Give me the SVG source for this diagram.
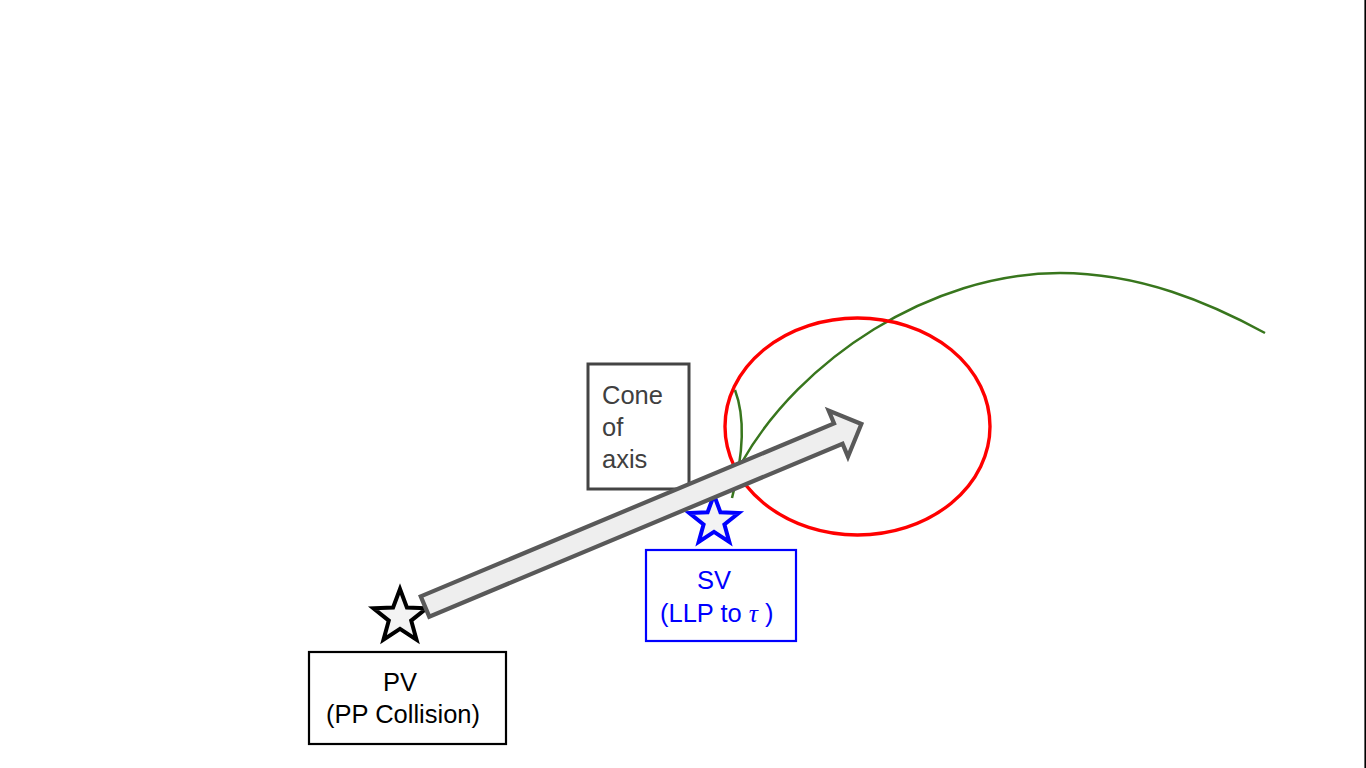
<svg xmlns="http://www.w3.org/2000/svg" width="1366" height="768" viewBox="0 0 1366 768">
<style>
.lbl{font-family:"Liberation Sans",Arial,sans-serif;font-size:25.5px}
.curve{fill:none;stroke:#38761d;stroke-width:2.5}
</style>
<rect width="1366" height="768" fill="#ffffff"/>
<line x1="1365.2" y1="0" x2="1365.2" y2="768" stroke="#000" stroke-width="1.6"/>
<g id="track">
<path class="curve" d="M742,462 C800,360 930,273 1060,273 C1140,273 1210,303 1265,333"/>
<path class="curve" d="M735,390 Q750,430 732,498"/>
</g>
<g id="cone-region">
<ellipse cx="857.5" cy="426.5" rx="132.5" ry="108.5" fill="none" stroke="#ff0000" stroke-width="3.4"/>
</g>
<g id="cone-label">
<rect x="588" y="364" width="101" height="125" fill="#fff" stroke="#444444" stroke-width="3"/>
<text class="lbl" fill="#404040" x="602" y="404">Cone</text>
<text class="lbl" fill="#404040" x="602" y="436">of</text>
<text class="lbl" fill="#404040" x="602" y="468">axis</text>
</g>
<g id="sv">
<polygon points="714,495 720.4,512.2 738.7,513 724.4,524.4 729.3,542 714,531.9 698.7,542 703.6,524.4 689.3,513 707.6,512.2" fill="#f3f3f3" stroke="#0000ff" stroke-width="4" stroke-linejoin="miter"/>
<rect x="646" y="550" width="150" height="91" fill="#fff" stroke="#0000ff" stroke-width="2.2"/>
<text class="lbl" fill="#0000ff" x="714" y="589" text-anchor="middle">SV</text>
<text class="lbl" fill="#0000ff" x="660" y="622">(LLP to <tspan font-family="'Liberation Serif','DejaVu Serif',serif" font-style="italic">τ</tspan>  )</text>
</g>
<g id="pv">
<polygon points="400,589 406.9,607.5 426.6,608.3 411.2,620.6 416.5,639.7 400,628.8 383.5,639.7 388.8,620.6 373.4,608.3 393.1,607.5" fill="#f3f3f3" stroke="#000000" stroke-width="4" stroke-linejoin="miter"/>
<rect x="309" y="652" width="197" height="92" fill="#fff" stroke="#000" stroke-width="2.2"/>
<text class="lbl" fill="#000" x="400" y="691" text-anchor="middle">PV</text>
<text class="lbl" fill="#000" x="403" y="723" text-anchor="middle">(PP Collision)</text>
</g>
<g id="connectors">
<polygon transform="translate(425,606.5) rotate(-22.7)" points="0,-11 448,-11 448,-25 473,0 448,25 448,11 0,11" fill="#eeeeee" stroke="#595959" stroke-width="4.2" stroke-linejoin="miter"/>
</g>
</svg>
